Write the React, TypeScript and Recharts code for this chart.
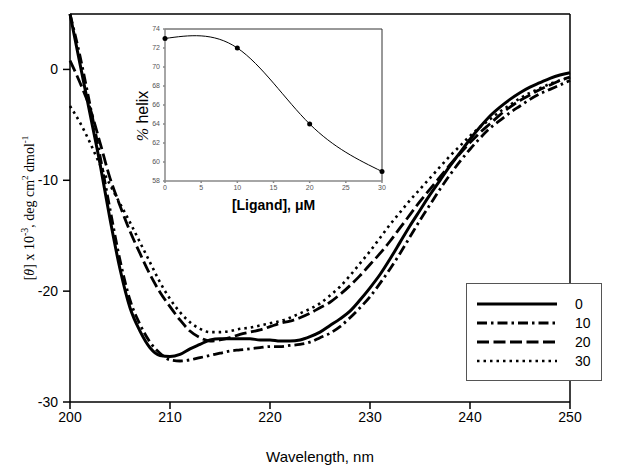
import { Legend, Line, LineChart, ReferenceLine, XAxis, YAxis } from "recharts";

// CD spectra, wavelength in nm, [theta] x 10^-3
const wavelengths = [
  200, 201, 202, 203, 204, 205, 206, 207, 208, 209, 210, 211, 212, 213, 214, 215, 216, 217,
  218, 219, 220, 221, 222, 223, 224, 225, 226, 227, 228, 229, 230, 231, 232, 233, 234, 235,
  236, 237, 238, 239, 240, 241, 242, 243, 244, 245, 246, 247, 248, 249, 250,
];
const theta0 = [
  5, 0.5, -4, -8.5, -13.5, -18, -21.5, -23.6, -25.1, -25.8, -25.9, -25.7, -25.2, -24.8, -24.4,
  -24.3, -24.3, -24.3, -24.3, -24.4, -24.4, -24.5, -24.5, -24.4, -24.1, -23.7, -23.1, -22.5,
  -21.8, -20.8, -19.7, -18.5, -17.1, -15.6, -14.1, -12.7, -11.3, -10.0, -8.7, -7.5, -6.3, -5.2,
  -4.2, -3.4, -2.7, -2.1, -1.6, -1.2, -0.8, -0.5, -0.3,
];
const theta10 = [
  5, 1.2, -3.2, -7.8, -12.6, -17.2, -20.8, -23.0, -24.6, -25.6, -26.2, -26.3, -26.2, -26.0,
  -25.8, -25.6, -25.4, -25.3, -25.2, -25.1, -25.0, -25.0, -24.9, -24.8, -24.6, -24.2, -23.8,
  -23.2, -22.4, -21.5, -20.5, -19.3, -18.0, -16.6, -15.1, -13.6, -12.2, -10.8, -9.5, -8.3, -7.2,
  -6.2, -5.3, -4.6, -3.9, -3.3, -2.7, -2.2, -1.8, -1.4, -1.0,
];
const theta20 = [
  0.8, -1.2, -3.5, -6.6, -9.8, -12.3, -14.6, -16.6, -18.5, -20.1, -21.4, -22.6, -23.6, -24.2,
  -24.5, -24.4, -24.2, -23.9, -23.7, -23.5, -23.2, -22.9, -22.7, -22.4, -22.0, -21.5, -21.0,
  -20.3, -19.5, -18.6, -17.6, -16.6, -15.5, -14.3, -13.1, -11.9, -10.8, -9.7, -8.6, -7.6, -6.6,
  -5.7, -4.9, -4.1, -3.4, -2.8, -2.3, -1.8, -1.4, -1.0, -0.7,
];
const theta30 = [
  -3.3, -4.8, -6.6, -8.6, -10.4, -12.1, -13.8, -15.6, -17.4, -19.2, -20.7, -21.9, -22.8, -23.4,
  -23.7, -23.7, -23.6, -23.4, -23.3, -23.1, -22.9, -22.7, -22.4, -22.0, -21.6, -21.1, -20.4,
  -19.6, -18.6, -17.5, -16.4, -15.2, -14.0, -12.9, -11.8, -10.8, -9.8, -8.8, -7.8, -6.9, -6.0,
  -5.2, -4.5, -3.8, -3.2, -2.6, -2.1, -1.7, -1.3, -1.0, -0.7,
];
const xTicks = [200, 210, 220, 230, 240, 250];
const yTicks = [-30, -20, -10, 0];

// inset: % helix vs ligand concentration
const ligand = [0, 10, 20, 30];
const helix = [73, 72, 64, 59];
const insetXTicks = [0, 5, 10, 15, 20, 25, 30];
const insetYTicks = [58, 60, 62, 64, 66, 68, 70, 72, 74];

const seriesNames = ["0", "10", "20", "30"];

const spectra = wavelengths.map((wl, i) => ({
  wl,
  s0: theta0[i],
  s10: theta10[i],
  s20: theta20[i],
  s30: theta30[i],
}));

const insetData = ligand.map((c, i) => ({ c, h: helix[i] }));

const series = [
  { key: "s0", name: seriesNames[0], dash: undefined, width: 3 },
  { key: "s10", name: seriesNames[1], dash: "10 4 2.5 4", width: 2.8 },
  { key: "s20", name: seriesNames[2], dash: "12 4.5", width: 2.8 },
  { key: "s30", name: seriesNames[3], dash: "2.5 4", width: 2.6 },
];

const SANS = "Arial, 'Liberation Sans', sans-serif";
const SERIF = "'Times New Roman', 'Liberation Serif', serif";

function LegendBox() {
  return (
    <div
      style={{
        width: 134,
        height: 86,
        border: "1px solid #555",
        background: "#fff",
        fontFamily: SANS,
        fontSize: 14,
        paddingTop: 10,
        boxSizing: "content-box",
      }}
    >
      {series.map((s) => (
        <div key={s.key} style={{ display: "flex", alignItems: "center", height: 19 }}>
          <svg width={100} height={10} style={{ marginLeft: 8 }}>
            <line
              x1={2}
              x2={82}
              y1={5}
              y2={5}
              stroke="#000"
              strokeWidth={s.width}
              strokeDasharray={s.dash}
            />
          </svg>
          <span>{s.name}</span>
        </div>
      ))}
    </div>
  );
}

export default function App() {
  return (
    <div
      style={{
        position: "absolute",
        left: 0,
        top: 0,
        width: 641,
        height: 467,
        background: "#fff",
        fontFamily: SANS,
      }}
    >
      <LineChart
        width={641}
        height={467}
        data={spectra}
        margin={{ top: 14, right: 71, bottom: 0, left: 0 }}
      >
        <XAxis
          dataKey="wl"
          type="number"
          domain={[200, 250]}
          ticks={xTicks}
          height={65}
          tickSize={7}
          tickMargin={3}
          stroke="#000"
          strokeWidth={1.5}
          tick={{ fill: "#000", fontSize: 14, fontFamily: SANS }}
          label={{
            value: "Wavelength, nm",
            position: "insideBottom",
            offset: 5,
            fill: "#000",
            fontSize: 15,
            fontFamily: SANS,
          }}
        />
        <YAxis
          type="number"
          domain={[-30, 5]}
          ticks={yTicks}
          width={70}
          tickSize={7}
          tickMargin={5}
          stroke="#000"
          strokeWidth={1.5}
          tick={{ fill: "#000", fontSize: 14, fontFamily: SANS }}
        />
        <ReferenceLine y={5} stroke="#000" strokeWidth={1.5} />
        <ReferenceLine x={250} stroke="#000" strokeWidth={1.5} />
        {series.map((s) => (
          <Line
            key={s.key}
            dataKey={s.key}
            name={s.name}
            type="monotone"
            stroke="#000"
            strokeWidth={s.width}
            strokeDasharray={s.dash}
            dot={false}
            isAnimationActive={false}
          />
        ))}
        <Legend
          layout="horizontal"
          verticalAlign="middle"
          align="center"
          wrapperStyle={{ left: 466, top: 283, width: 136, height: 98 }}
          content={() => <LegendBox />}
        />
      </LineChart>

      <div style={{ position: "absolute", left: 120, top: 22 }}>
        <LineChart
          width={270}
          height={200}
          data={insetData}
          margin={{ top: 7, right: 8, bottom: 0, left: 0 }}
        >
          <XAxis
            dataKey="c"
            type="number"
            domain={[0, 30]}
            ticks={insetXTicks}
            height={41}
            tickSize={2}
            tickMargin={2}
            stroke="#888"
            strokeWidth={1.5}
            tick={{ fill: "#555", fontSize: 7, fontFamily: SANS }}
            label={{
              value: "[Ligand], \u03bcM",
              position: "insideBottom",
              offset: 12,
              fill: "#000",
              fontSize: 14,
              fontWeight: "bold",
              fontFamily: SANS,
            }}
          />
          <YAxis
            type="number"
            domain={[58, 74]}
            ticks={insetYTicks}
            width={45}
            tickSize={2}
            tickMargin={3}
            stroke="#888"
            strokeWidth={1.5}
            tick={{ fill: "#555", fontSize: 7, fontFamily: SANS }}
          />
          <ReferenceLine y={74} stroke="#333" strokeWidth={1} />
          <ReferenceLine x={30} stroke="#333" strokeWidth={1} />
          <Line
            dataKey="h"
            type="natural"
            stroke="#000"
            strokeWidth={1}
            dot={{ r: 2.5, fill: "#000", stroke: "#000", strokeWidth: 0 }}
            isAnimationActive={false}
          />
        </LineChart>
      </div>

      <svg
        width={641}
        height={467}
        style={{ position: "absolute", left: 0, top: 0, pointerEvents: "none" }}
      >
        <text
          transform="translate(34 208) rotate(-90)"
          textAnchor="middle"
          fontFamily={SERIF}
          fontSize={14}
          fill="#000"
        >
          [<tspan fontStyle="italic">θ</tspan>] x 10
          <tspan fontSize={10} dy={-6}>-3</tspan>
          <tspan dy={6}>, deg cm</tspan>
          <tspan fontSize={9} dy={-6}>2</tspan>
          <tspan dy={6}> dmol</tspan>
          <tspan fontSize={9} dy={-6}>-1</tspan>
        </text>
        <text
          transform="translate(148 116) rotate(-90)"
          textAnchor="middle"
          fontSize={16}
          fill="#000"
        >
          <tspan fontFamily={SERIF} fontStyle="italic">%</tspan>
          <tspan fontFamily={SANS}> helix</tspan>
        </text>
      </svg>
    </div>
  );
}
